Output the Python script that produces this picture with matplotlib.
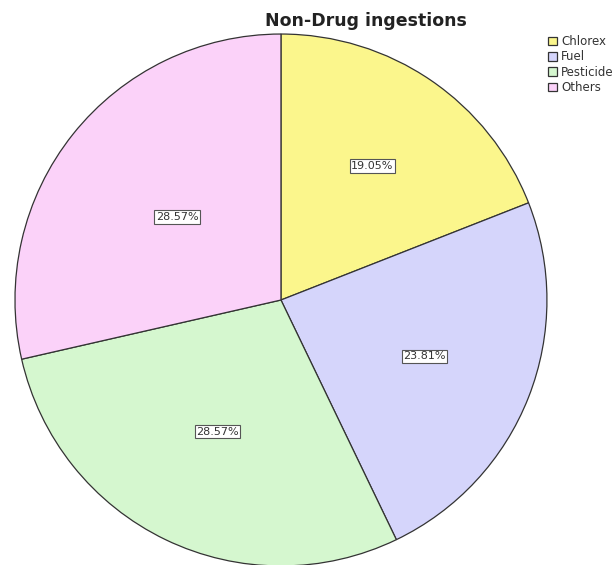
import matplotlib
matplotlib.use("Agg")
import numpy as np
import matplotlib.pyplot as plt

# ingestion counts per category
categories = ["Chlorex", "Fuel", "Pesticide", "Others"]
counts = [4, 5, 6, 6]
colors = ["#fbf68c", "#d5d5fb", "#d5f7cf", "#fbd2f9"]
label_dist = [0.61, 0.58, 0.55, 0.50]

fig = plt.figure(figsize=(6.14, 5.65), dpi=100)
ax = fig.add_axes([0.0244, -0.0018, 0.8664, 0.9416])

wedges, texts, autotexts = ax.pie(
    counts,
    colors=colors,
    startangle=90,
    counterclock=False,
    autopct="%.2f%%",
    wedgeprops=dict(edgecolor="#333333", linewidth=0.9),
    textprops=dict(fontsize=8, color="#333333"),
)
# move the percentage boxes to their own radius inside each wedge
for w, t, d in zip(wedges, autotexts, label_dist):
    mid = np.deg2rad((w.theta1 + w.theta2) / 2)
    t.set_position((d * np.cos(mid), d * np.sin(mid)))
    t.set_bbox(dict(boxstyle="square,pad=0.15", facecolor="white",
                    edgecolor="#555555", linewidth=0.8))
ax.set_xlim(-1.0, 1.0)
ax.set_ylim(-1.0, 1.0)
ax.set_aspect("equal")

fig.text(0.596, 0.962, "Non-Drug ingestions", ha="center", va="center",
         fontsize=12.5, fontweight="bold", color="#222222")

leg = fig.legend(wedges, categories, loc="upper left",
                 bbox_to_anchor=(0.8925, 0.938), frameon=False,
                 fontsize=8.5, handlelength=0.76, handleheight=0.76,
                 handletextpad=0.34, labelspacing=0.2, borderpad=0.0,
                 borderaxespad=0.0)
for t in leg.get_texts():
    t.set_color("#333333")

fig.savefig("out.png", dpi=100)
